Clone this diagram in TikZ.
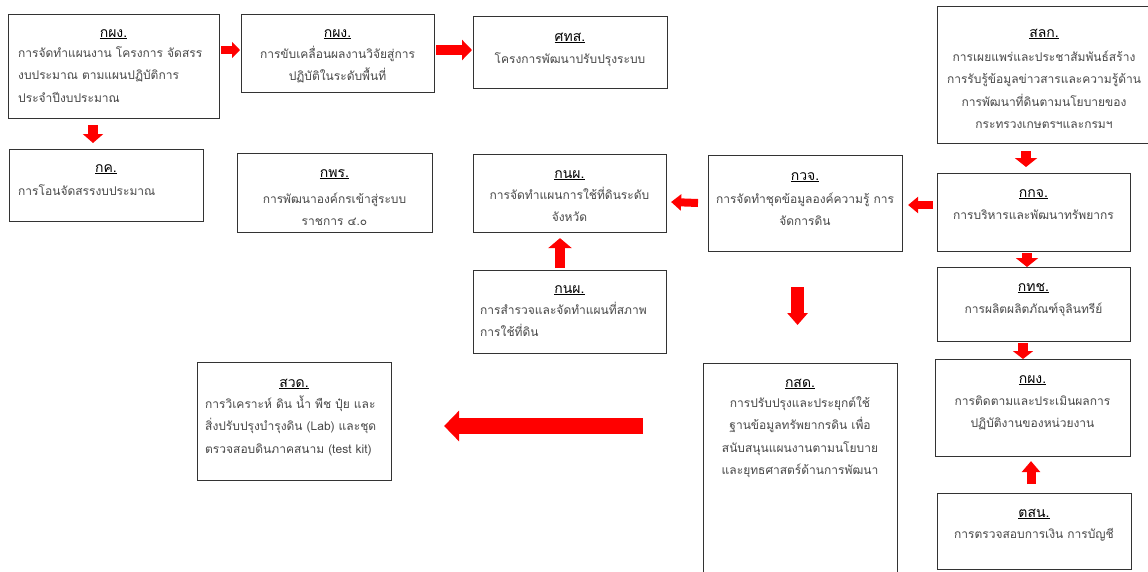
\documentclass[tikz,border=0pt]{standalone}
\usepackage{fontspec}
\newfontfamily\thai[Script=Thai]{Loma}
\usetikzlibrary{arrows.meta,calc}
\newcommand\tfont{\thai\fontsize{12}{22.5}\selectfont}
\newcommand\hfont{\thai\fontsize{14}{22.5}\selectfont}
\newcommand\linesc[1]{\vtop{\halign{\hfil##\hfil\cr#1\crcr}}}
\newcommand\linesl[1]{\vtop{\halign{##\hfil\cr#1\crcr}}}
\tikzset{
 bx/.style={draw=black!80, line width=1.1pt, anchor=north west, inner sep=0pt},
 ttl/.style={anchor=base, inner sep=0pt, font=\hfont, text=black},
 bdc/.style={anchor=base, inner sep=0pt, font=\tfont, text=black!72},
 bdl/.style={anchor=base west, inner sep=0pt, font=\tfont, text=black!72},
 arr/.style args={#1/#2/#3}{draw=red, line width=#1, -{Triangle[length=#3,width=#2]}},
}
\begin{document}
\begin{tikzpicture}[x=1pt,y=-1pt]
\useasboundingbox (0,0) rectangle (1148,571);
% boxes
\node[bx, minimum width=211pt, minimum height=104pt] (A1) at (8,14) {};
\node[bx, minimum width=193pt, minimum height=78pt] (A2) at (241,14) {};
\node[bx, minimum width=194pt, minimum height=72pt] (A3) at (473,16) {};
\node[bx, minimum width=215pt, minimum height=137pt] (R1) at (937,6) {};
\node[bx, minimum width=194pt, minimum height=72pt] (B1) at (9,149) {};
\node[bx, minimum width=195pt, minimum height=79pt] (B2) at (237,153) {};
\node[bx, minimum width=193pt, minimum height=78pt] (B3) at (473,154) {};
\node[bx, minimum width=194pt, minimum height=96pt] (B4) at (708,155) {};
\node[bx, minimum width=193pt, minimum height=78pt] (R2) at (937,173) {};
\node[bx, minimum width=193pt, minimum height=74pt] (R3) at (937,267) {};
\node[bx, minimum width=195pt, minimum height=97pt] (R4) at (935,359) {};
\node[bx, minimum width=194pt, minimum height=76pt] (R5) at (937,493) {};
\node[bx, minimum width=193pt, minimum height=83pt] (C1) at (473,270) {};
\node[bx, minimum width=194pt, minimum height=118pt] (D1) at (197,362) {};
\node[bx, minimum width=194pt, minimum height=220pt] (D2) at (703,363) {};
% titles
\node[ttl] (A1t) at (113.5,37) {\underline{กผง.}};
\node[ttl] (A2t) at (337.5,37) {\underline{กผง.}};
\node[ttl] (A3t) at (570,41) {\underline{ศทส.}};
\node[ttl] (R1t) at (1044,37) {\underline{สลก.}};
\node[ttl] (B1t) at (106,172) {\underline{กค.}};
\node[ttl] (B2t) at (334.5,177) {\underline{กพร.}};
\node[ttl] (B3t) at (569.5,178) {\underline{กนผ.}};
\node[ttl] (B4t) at (805,180) {\underline{กวจ.}};
\node[ttl] (R2t) at (1033.5,197) {\underline{กกจ.}};
\node[ttl] (R3t) at (1033.5,291) {\underline{กทช.}};
\node[ttl] (R4t) at (1032.5,383) {\underline{กผง.}};
\node[ttl] (R5t) at (1034,517) {\underline{ตสน.}};
\node[ttl] (C1t) at (569.5,293) {\underline{กนผ.}};
\node[ttl] (D1t) at (294,387) {\underline{สวด.}};
\node[ttl] (D2t) at (800,387) {\underline{กสด.}};
% bodies
\node[bdl] (A1b) at (18,57) {\linesl{การจัดทำแผนงาน โครงการ จัดสรร\cr งบประมาณ ตามแผนปฏิบัติการ\cr ประจำปีงบประมาณ}};
\node[bdc] (A2b) at (337.5,58) {\linesc{การขับเคลื่อนผลงานวิจัยสู่การ\cr ปฏิบัติในระดับพื้นที่}};
\node[bdc] (A3b) at (570,63) {\linesc{โครงการพัฒนาปรับปรุงระบบ}};
\node[bdc] (R1b) at (1044,61) {\linesc{การเผยแพร่และประชาสัมพันธ์สร้าง\cr การรับรู้ข้อมูลข่าวสารและความรู้ด้าน\cr การพัฒนาที่ดินตามนโยบายของ\cr กระทรวงเกษตรฯและกรมฯ}};
\node[bdl] (B1b) at (18,195) {\linesl{การโอนจัดสรรงบประมาณ}};
\node[bdc] (B2b) at (334.5,203) {\linesc{การพัฒนาองค์กรเข้าสู่ระบบ\cr ราชการ ๔.๐}};
\node[bdc] (B3b) at (569.5,199) {\linesc{การจัดทำแผนการใช้ที่ดินระดับ\cr จังหวัด}};
\node[bdc] (B4b) at (805,203) {\linesc{การจัดทำชุดข้อมูลองค์ความรู้ การ\cr จัดการดิน}};
\node[bdc] (R2b) at (1033.5,219) {\linesc{การบริหารและพัฒนาทรัพยากร}};
\node[bdc] (R3b) at (1033.5,313) {\linesc{การผลิตผลิตภัณฑ์จุลินทรีย์}};
\node[bdc] (R4b) at (1032.5,405) {\linesc{การติดตามและประเมินผลการ\cr ปฏิบัติงานของหน่วยงาน}};
\node[bdc] (R5b) at (1034,538) {\linesc{การตรวจสอบการเงิน การบัญชี}};
\node[bdl] (C1b) at (480,314) {\linesl{การสำรวจและจัดทำแผนที่สภาพ\cr การใช้ที่ดิน}};
\node[bdl] (D1b) at (205,408) {\linesl{การวิเคราะห์ ดิน น้ำ พืช ปุ๋ย และ\cr สิ่งปรับปรุงบำรุงดิน (Lab) และชุด\cr ตรวจสอบดินภาคสนาม (test kit)}};
\node[bdc] (D2b) at (800,407) {\linesc{การปรับปรุงและประยุกต์ใช้\cr ฐานข้อมูลทรัพยากรดิน เพื่อ\cr สนับสนุนแผนงานตามนโยบาย\cr และยุทธศาสตร์ด้านการพัฒนา}};
% arrows
\draw[arr=8pt/16pt/8pt] ($(A1.north east)+(1,36)$) -- ($(A2.north west)+(-1,36)$);
\draw[arr=10pt/20pt/10pt] ($(A2.north east)+(1,36)$) -- ($(A3.north west)+(-1,34)$);
\draw[arr=10pt/20pt/9pt] ($(A1.south west)+(85,6)$) -- ($(B1.north west)+(84,-6)$);
\draw[arr=8pt/16pt/10pt] ($(B4.north west)+(-10,48)$) -- ($(B3.north east)+(4,48)$);
\draw[arr=8pt/16pt/10pt] ($(R2.north west)+(-4,32)$) -- ($(B4.north east)+(5,50)$);
\draw[arr=10pt/22pt/9pt] ($(R1.south west)+(89,7)$) -- ($(R2.north west)+(89,-6)$);
\draw[arr=10pt/22pt/9pt] ($(R2.south west)+(90,1)$) -- ($(R3.north west)+(90,0)$);
\draw[arr=10pt/20pt/8pt] ($(R3.south west)+(86,1)$) -- ($(R4.north west)+(88,0)$);
\draw[arr=9pt/18pt/11pt] ($(R5.north west)+(94,-9)$) -- ($(R4.south west)+(96,4)$);
\draw[arr=10pt/23pt/10pt] ($(C1.north west)+(87,-2)$) -- ($(B3.south west)+(87,5)$);
\draw[arr=13pt/20pt/12pt] ($(B4.south)+(-8,35)$) -- ($(D2.north)+(-3,-38)$);
\draw[arr=16pt/30pt/15pt] ($(D2.north west)+(-60,63)$) -- ($(D1.north east)+(52,64)$);
\end{tikzpicture}
\end{document}
